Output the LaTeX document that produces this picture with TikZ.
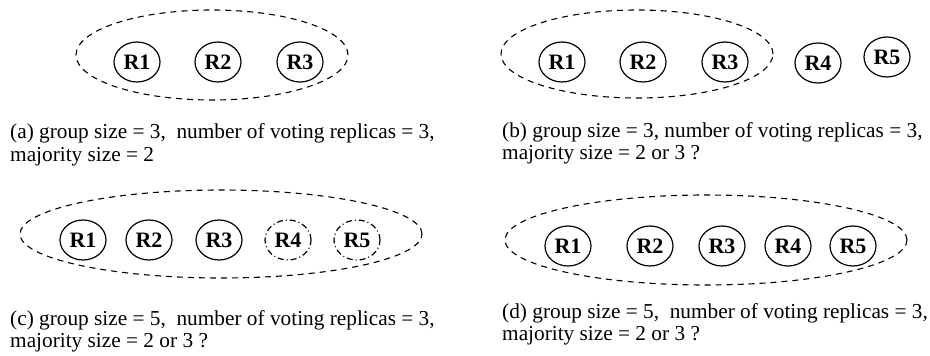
\documentclass[tikz,border=0pt]{standalone}
\usepackage{fontspec}
\setmainfont{Liberation Serif}
\usepackage{tikz}
\usetikzlibrary{shapes.geometric}

\begin{document}
\begin{tikzpicture}[x=1pt, y=-1pt,
  rep/.style={ellipse, draw=black, line width=1.2pt, minimum width=46pt, minimum height=40pt, inner sep=0pt, font=\bfseries\fontsize{22}{22}\selectfont},
  spare/.style={rep, dash pattern=on 6pt off 3pt on 1pt off 3pt},
  grp/.style={ellipse, draw=black, line width=1.1pt, dash pattern=on 6pt off 5pt, inner sep=0pt},
  caption/.style={anchor=base west, inner sep=0pt, font=\fontsize{21.3}{22}\selectfont}]
\useasboundingbox (0,0) rectangle (930,356);

% (a) three replicas, all voting
\node[grp, minimum width=272pt, minimum height=90pt] (ga) at (212,55) {};
\node[rep] (a1) at (137,62) {R1};
\node[rep] (a2) at (218,62) {R2};
\node[rep] (a3) at (300,62) {R3};
\node[caption] (capa) at (10,138) {(a) group size = 3,\ \ number of voting replicas = 3,};
\node[caption] (capa2) at (10,161) {majority size = 2};

% (b) two more replicas outside the group
\node[grp, minimum width=272pt, minimum height=88pt] (gb) at (637,54) {};
\node[rep] (b1) at (562,62) {R1};
\node[rep] (b2) at (643,62) {R2};
\node[rep] (b3) at (725,62) {R3};
\node[rep] (b4) at (818,63) {R4};
\node[rep] (b5) at (887,57) {R5};
\node[caption] (capb) at (502,137) {(b) group size = 3, number of voting replicas = 3,};
\node[caption] (capb2) at (502,159) {majority size = 2 or 3 ?};

% (c) five in the group, two not voting
\node[grp, minimum width=402pt, minimum height=88pt] (gc) at (221,234) {};
\node[rep] (c1) at (83,240) {R1};
\node[rep] (c2) at (149,240) {R2};
\node[rep] (c3) at (219,240) {R3};
\node[spare] (c4) at (288,240) {R4};
\node[spare] (c5) at (357,240) {R5};
\node[caption] (capc) at (10,325) {(c) group size = 5,\ \ number of voting replicas = 3,};
\node[caption] (capc2) at (10,347) {majority size = 2 or 3 ?};

% (d) five in the group
\node[grp, minimum width=402pt, minimum height=90pt] (gd) at (706,240) {};
\node[rep] (d1) at (568,246) {R1};
\node[rep] (d2) at (650,246) {R2};
\node[rep] (d3) at (722,246) {R3};
\node[rep] (d4) at (788,246) {R4};
\node[rep] (d5) at (853,246) {R5};
\node[caption] (capd) at (502,318) {(d) group size = 5,\ \ number of voting replicas = 3,};
\node[caption] (capd2) at (502,340) {majority size = 2 or 3 ?};

\end{tikzpicture}
\end{document}
